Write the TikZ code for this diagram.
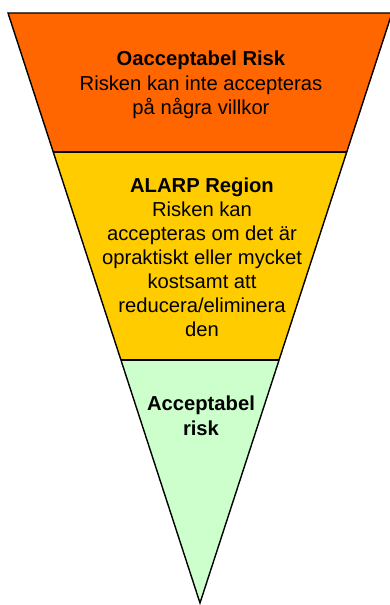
\documentclass[tikz,border=0pt]{standalone}
\usepackage{fontspec}
\setmainfont{Liberation Sans}
\definecolor{oacc}{HTML}{FF6600}
\definecolor{alarp}{HTML}{FFCC00}
\definecolor{acc}{HTML}{CCFFCC}
\begin{document}
\begin{tikzpicture}[line width=0.8pt,
    risktext/.style={align=center,inner sep=0pt,font=\fontsize{11.5}{14}\selectfont}]
                \useasboundingbox (0,0) rectangle (7.78,12.1);
                \fill [color=oacc] (0.16,11.84)--(7.84,11.84)--(6.935,9.06)--(1.065,9.06)--cycle;
                \fill [color=alarp] (1.065,9.06)--(6.935,9.06)--(5.58,4.9)--(2.42,4.9)--cycle;
                \fill [color=acc] (2.42,4.9)--(5.58,4.9)--(4,0.04)--cycle;
                \draw (0.16,11.84)--(7.84,11.84)--(4,0.04)--cycle;
                \draw (1.065,9.06)--(6.935,9.06);
                \draw (2.42,4.9)--(5.58,4.9);
                \draw (4.02,10.4) node[risktext] (oacctext) {\textbf{Oacceptabel Risk}\\Risken kan inte accepteras\\på några villkor};
                \draw (4.04,6.95) node[risktext,font=\fontsize{11.5}{13.7}\selectfont] (alarptext) {\textbf{ALARP Region}\\Risken kan\\accepteras om det är\\opraktiskt eller mycket\\kostsamt att\\reducera/eliminera\\den};
                \draw (4.02,3.78) node[risktext] (acctext) {\textbf{Acceptabel}\\\textbf{risk}};
                \end{tikzpicture}
\end{document}
